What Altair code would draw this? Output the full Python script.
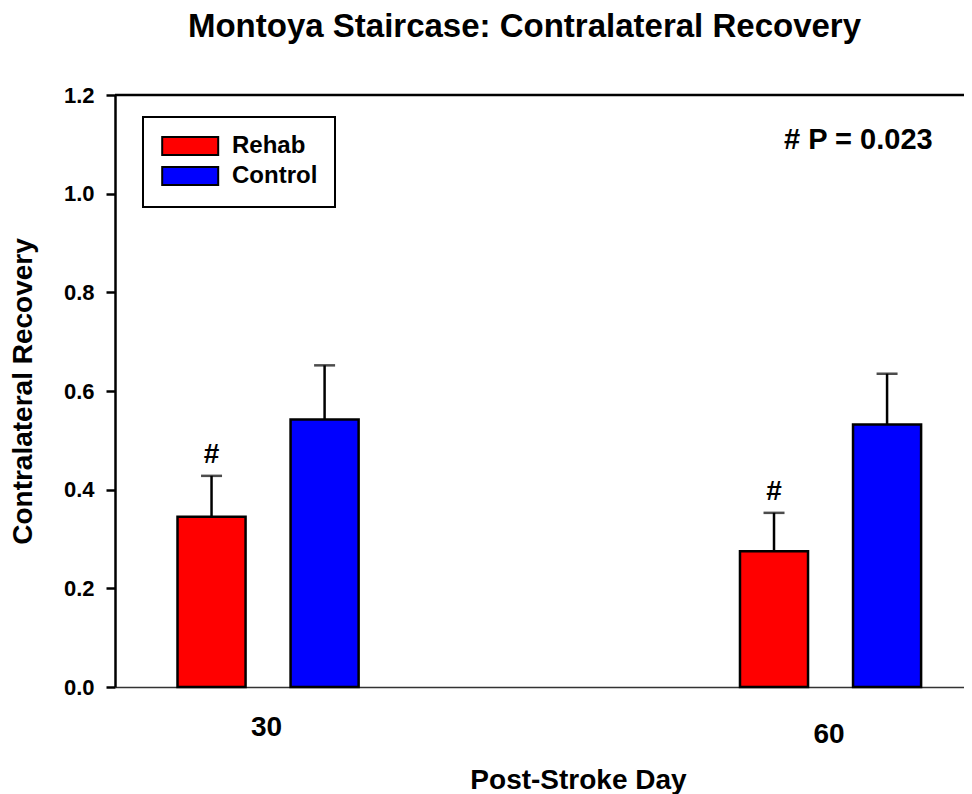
import altair as alt
import pandas as pd

# ---- data ----
days = ["30", "30", "60", "60"]
groups = ["Rehab", "Control", "Rehab", "Control"]
means = [0.345, 0.542, 0.275, 0.532]
upper = [0.428, 0.652, 0.353, 0.635]
sig = ["#", "", "#", ""]
group_order = ["Rehab", "Control"]
group_colors = ["#FF0000", "#0000FF"]
y_ticks = [0.0, 0.2, 0.4, 0.6, 0.8, 1.0, 1.2]
p_text = ["# P = 0.023"]

df = pd.DataFrame({"day": days, "group": groups, "mean": means, "upper": upper, "sig": sig})

FONT = "Liberation Sans"
W, H = 849, 592

x_enc = alt.X(
    "day:N",
    scale=alt.Scale(paddingInner=0.678, paddingOuter=0.0937, align=0.593),
    axis=alt.Axis(
        title="Post-Stroke Day", labelAngle=0, ticks=False,
        domainColor="#333333", domainWidth=1.5,
        labelFont=FONT, labelFontSize=28, labelFontWeight="bold", labelColor="black",
        labelPadding={"condition": {"test": "datum.value == '60'", "value": 47}, "value": 40},
        labelOffset=14,
        titleFont=FONT, titleFontSize=28, titleFontWeight="bold", titleColor="black",
        titleX=463, titleY=101, titleBaseline="alphabetic",
    ),
)
xo_enc = alt.XOffset("group:N", scale=alt.Scale(domain=group_order, paddingInner=0.398, paddingOuter=0))
y_scale = alt.Scale(domain=[0, 1.2], nice=False, zero=True)

base = alt.Chart(df)

bars = base.mark_bar(stroke="black", strokeWidth=2.5).encode(
    x=x_enc,
    xOffset=xo_enc,
    y=alt.Y(
        "mean:Q", scale=y_scale,
        axis=alt.Axis(
            values=y_ticks, format=".1f", title="Contralateral Recovery",
            titleFont=FONT, titleFontSize=28, titleFontWeight="bold", titleColor="black", titlePadding=26,
            labelFont=FONT, labelFontSize=22, labelFontWeight="bold", labelColor="black", labelPadding=12,
            tickSize=9, tickWidth=2.5, tickColor="black", domainColor="black", domainWidth=2.5,
        ),
    ),
    color=alt.Color(
        "group:N",
        scale=alt.Scale(domain=group_order, range=group_colors),
        legend=alt.Legend(
            orient="none", legendX=28, legendY=22, title=None,
            symbolType="M-1.4,-1.3H6.6V1.3H-1.4Z", symbolSize=196,
            symbolStrokeColor="black", symbolStrokeWidth=2, symbolOpacity=1,
            labelFont=FONT, labelFontSize=24, labelFontWeight="bold", labelColor="black",
            labelOffset=48, padding=17, rowPadding=2,
            strokeColor="black", fillColor="white",
        ),
    ),
)

err = base.mark_rule(color="black", strokeWidth=2.5).encode(
    x="day:N", xOffset="group:N", y="mean:Q", y2="upper:Q"
)
caps = base.mark_tick(color="black", thickness=2.5, size=21).encode(
    x="day:N", xOffset="group:N", y="upper:Q"
)
hashes = base.transform_filter("datum.sig != ''").mark_text(
    font=FONT, fontSize=28, fontWeight="bold", color="black", baseline="alphabetic", dy=-13
).encode(x="day:N", xOffset="group:N", y="upper:Q", text="sig:N")

ptext = alt.Chart(pd.DataFrame({"label": p_text})).mark_text(
    font=FONT, fontSize=29, fontWeight="bold", color="black", align="left", baseline="alphabetic", dx=10
).encode(x=alt.datum("60"), xOffset=alt.datum("Rehab"), y=alt.datum(1.09), text="label:N")

top_line = alt.Chart(pd.DataFrame({"v": [1.2]})).mark_rule(color="black", strokeWidth=2.5).encode(
    y="v:Q", x=alt.value(0), x2=alt.value(W)
)

chart = alt.layer(err, caps, bars, hashes, ptext, top_line).properties(
    width=W, height=H,
    autosize=alt.AutoSizeParams(type="none"),
    padding={"left": 107, "top": 87, "right": 0, "bottom": 107},
    title=alt.Title(
        "Montoya Staircase: Contralateral Recovery",
        font=FONT, fontSize=33, fontWeight="bold", color="black",
        anchor="middle", dx=-15, offset=40,
    ),
).configure_view(stroke=None).configure_axis(grid=False).configure_legend(strokeWidth=2)

chart.save("out.html", embed_options={"renderer": "svg", "actions": False})
